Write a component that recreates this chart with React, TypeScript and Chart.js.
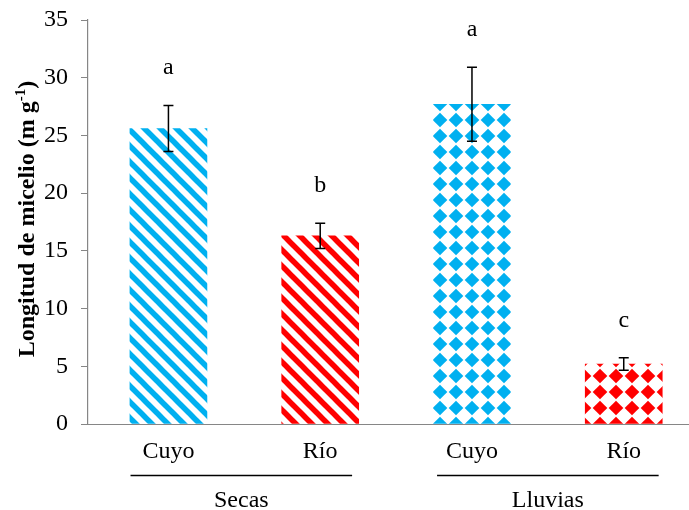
import React, { useEffect, useRef } from "react";
import { Chart, registerables } from "chart.js";

Chart.register(...registerables);

const groups = ["Secas", "Lluvias"];
const categories = ["Cuyo", "Río", "Cuyo", "Río"];
const groupOf = [0, 0, 1, 1];
const means = [25.6, 16.3, 27.7, 5.2];
const errors = [2.0, 1.1, 3.2, 0.55];
const letters = ["a", "b", "a", "c"];
const yTicks = [0, 5, 10, 15, 20, 25, 30, 35];
const colors = ["#00B0F0", "#FF0000", "#00B0F0", "#FF0000"];
const fills = ["stripe", "stripe", "diamond", "diamond"];

const FONT = "'Liberation Serif', 'Times New Roman', serif";

function makeStripe(color: string): CanvasPattern | string {
  const s = 16;
  const c = document.createElement("canvas");
  c.width = s;
  c.height = s;
  const g = c.getContext("2d");
  if (!g) return color;
  g.fillStyle = "#ffffff";
  g.fillRect(0, 0, s, s);
  g.strokeStyle = color;
  g.lineWidth = 5.5;
  for (const o of [-s, 0, s]) {
    g.beginPath();
    g.moveTo(o - 4, -4);
    g.lineTo(o + s + 4, s + 4);
    g.stroke();
  }
  return g.createPattern(c, "repeat") || color;
}

function makeDiamond(color: string): CanvasPattern | string {
  const s = 16;
  const c = document.createElement("canvas");
  c.width = s;
  c.height = s;
  const g = c.getContext("2d");
  if (!g) return color;
  g.fillStyle = "#ffffff";
  g.fillRect(0, 0, s, s);
  g.fillStyle = color;
  const h = 7.3;
  g.beginPath();
  g.moveTo(8, 8 - h);
  g.lineTo(8 + h, 8);
  g.lineTo(8, 8 + h);
  g.lineTo(8 - h, 8);
  g.closePath();
  g.fill();
  return g.createPattern(c, "repeat") || color;
}

const annotate = {
  id: "annotate",
  afterDatasetsDraw(chart: any) {
    const { ctx, chartArea } = chart;
    const x = chart.scales.x;
    const y = chart.scales.y;
    ctx.save();

    // x axis line
    ctx.strokeStyle = "#868686";
    ctx.lineWidth = 1.2;
    ctx.beginPath();
    ctx.moveTo(chartArea.left, chartArea.bottom + 0.5);
    ctx.lineTo(chartArea.right, chartArea.bottom + 0.5);
    ctx.stroke();

    // error bars + letters
    ctx.strokeStyle = "#000000";
    ctx.lineWidth = 1.5;
    ctx.fillStyle = "#000000";
    means.forEach((m, i) => {
      const px = x.getPixelForValue(i);
      const top = y.getPixelForValue(m + errors[i]);
      const bot = y.getPixelForValue(m - errors[i]);
      ctx.beginPath();
      ctx.moveTo(px, top);
      ctx.lineTo(px, bot);
      ctx.moveTo(px - 5, top);
      ctx.lineTo(px + 5, top);
      ctx.moveTo(px - 5, bot);
      ctx.lineTo(px + 5, bot);
      ctx.stroke();

      ctx.font = `24px ${FONT}`;
      ctx.textAlign = "center";
      ctx.textBaseline = "alphabetic";
      ctx.fillText(letters[i], px, top - 31);
    });

    // category labels
    ctx.font = `24px ${FONT}`;
    ctx.textAlign = "center";
    ctx.textBaseline = "alphabetic";
    categories.forEach((c, i) => {
      ctx.fillText(c, x.getPixelForValue(i), 458);
    });

    // group labels + lines
    const spacing = x.getPixelForValue(1) - x.getPixelForValue(0);
    groups.forEach((gname, gi) => {
      const idx = groupOf.map((g, i) => (g === gi ? i : -1)).filter((i) => i >= 0);
      const cx = idx.reduce((s, i) => s + x.getPixelForValue(i), 0) / idx.length - (gi === 0 ? 3 : 0);
      const half = spacing * 0.73;
      ctx.strokeStyle = "#000000";
      ctx.lineWidth = 1.5;
      ctx.beginPath();
      ctx.moveTo(cx - half, 475.5);
      ctx.lineTo(cx + half, 475.5);
      ctx.stroke();
      ctx.fillText(gname, cx, 507);
    });

    // y axis title (rotated with superscript)
    const main = "Longitud de micelio (m g";
    const sup = "-1";
    const close = ")";
    const bold = `bold 24px ${FONT}`;
    const supFont = `bold 15px ${FONT}`;
    ctx.font = bold;
    const w1 = ctx.measureText(main).width;
    const w3 = ctx.measureText(close).width;
    ctx.font = supFont;
    const w2 = ctx.measureText(sup).width;
    const total = w1 + w2 + w3;
    ctx.translate(26, 219);
    ctx.rotate(-Math.PI / 2);
    ctx.textAlign = "left";
    ctx.textBaseline = "alphabetic";
    let cur = -total / 2;
    ctx.font = bold;
    ctx.fillText(main, cur, 8);
    cur += w1;
    ctx.font = supFont;
    ctx.fillText(sup, cur, -1);
    cur += w2;
    ctx.font = bold;
    ctx.fillText(close, cur, 8);

    ctx.restore();
  },
};

export default function App() {
  const ref = useRef<HTMLCanvasElement | null>(null);

  useEffect(() => {
    const canvas = ref.current;
    if (!canvas) return;
    const bg = fills.map((f, i) => (f === "stripe" ? makeStripe(colors[i]) : makeDiamond(colors[i])));
    const chart = new Chart(canvas, {
      type: "bar",
      data: {
        datasets: [
          {
            data: means.map((v, i) => ({ x: i, y: v })),
            backgroundColor: bg as any,
            borderWidth: 0,
            barThickness: 77,
          } as any,
        ],
      },
      options: {
        animation: false,
        responsive: false,
        devicePixelRatio: 1,
        layout: { padding: { top: 20, bottom: 86, left: 0, right: 0 } },
        plugins: { legend: { display: false }, tooltip: { enabled: false } },
        scales: {
          x: {
            type: "linear",
            display: false,
            offset: false,
            min: -0.53,
            max: 3.43,
            grid: { offset: false },
          },
          y: {
            min: yTicks[0],
            max: yTicks[yTicks.length - 1],
            afterFit: (scale: any) => {
              scale.width = 88;
              scale.paddingTop = 0;
              scale.paddingBottom = 0;
            },
            afterBuildTicks: (scale: any) => {
              scale.ticks = yTicks.map((v) => ({ value: v }));
            },
            ticks: {
              color: "#000000",
              font: { family: FONT, size: 24 },
              padding: 13,
            },
            grid: {
              display: true,
              drawOnChartArea: false,
              drawTicks: true,
              tickLength: 7,
              color: "#868686",
            },
            border: { display: true, color: "#868686", width: 1.2 },
          },
        },
      },
      plugins: [annotate],
    });
    return () => chart.destroy();
  }, []);

  return (
    <div style={{ position: "absolute", left: 0, top: 0, width: 689, height: 510, background: "#fff" }}>
      <canvas ref={ref} width={689} height={510} style={{ width: 689, height: 510, display: "block" }} />
    </div>
  );
}
